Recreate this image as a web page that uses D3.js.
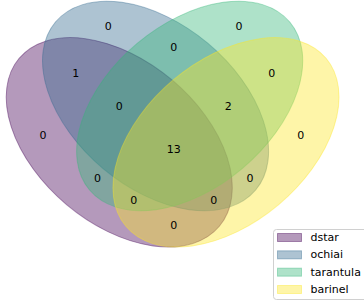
<!DOCTYPE html>
<html><head><meta charset="utf-8">
<script src="https://cdn.jsdelivr.net/npm/d3@7"></script>
<style>body{margin:0;background:#fff}svg{display:block}</style>
</head><body>
<script>
const setNames = ["dstar", "ochiai", "tarantula", "barinel"];
const setColors = ["#440154", "#31688e", "#35b779", "#fde725"];
// ellipse geometry in unit space (cx, cy, width, height, angle)
const ellipseCx = [0.350, 0.450, 0.544, 0.644];
const ellipseCy = [0.400, 0.500, 0.500, 0.400];
const ellipseAngle = [140, 140, 40, 40];
const ellipseW = 0.72, ellipseH = 0.45;
// region codes (dstar, ochiai, tarantula, barinel) and counts
const regionCodes = ["0001","0010","0011","0100","0101","0110","0111","1000","1001","1010","1011","1100","1101","1110","1111"];
const regionValues = [0, 0, 0, 0, 0, 0, 2, 0, 0, 0, 0, 1, 0, 0, 13];
const regionX = [0.85,0.68,0.77,0.32,0.71,0.50,0.65,0.14,0.50,0.29,0.39,0.23,0.61,0.35,0.50];
const regionY = [0.42,0.72,0.59,0.72,0.30,0.66,0.50,0.42,0.17,0.30,0.24,0.59,0.24,0.50,0.38];

const W = 364, H = 301;
const k = 363;
const x = d3.scaleLinear().domain([0, 1]).range([-7.8, -7.8 + k]);
const y = d3.scaleLinear().domain([0, 1]).range([287.5, 287.5 - k]);

const svg = d3.select("body").append("svg").attr("width", W).attr("height", H);

const ell = setNames.map((n, i) => ({i, cx: ellipseCx[i], cy: ellipseCy[i], a: ellipseAngle[i]}));
svg.append("g").selectAll("ellipse").data(ell).join("ellipse")
  .attr("transform", d => `translate(${x(d.cx)},${y(d.cy)}) rotate(${-d.a})`)
  .attr("rx", x(ellipseW / 2) - x(0))
  .attr("ry", x(ellipseH / 2) - x(0))
  .attr("fill", d => setColors[d.i]).attr("fill-opacity", 0.4)
  .attr("stroke", d => setColors[d.i]).attr("stroke-opacity", 0.4).attr("stroke-width", 1);

svg.append("g").selectAll("text").data(regionCodes).join("text")
  .attr("x", (d, i) => x(regionX[i]))
  .attr("y", (d, i) => y(regionY[i]))
  .attr("text-anchor", "middle").attr("dominant-baseline", "central")
  .attr("font-family", "DejaVu Sans").attr("font-size", 11).attr("fill", "#000")
  .text((d, i) => regionValues[i]);

// legend
const lg = svg.append("g").attr("transform", "translate(273.5,229.5)");
lg.append("rect").attr("width", 95).attr("height", 70).attr("rx", 3)
  .attr("fill", "#fff").attr("fill-opacity", 0.8).attr("stroke", "#d0d0d0").attr("stroke-width", 1);
const rowY = d3.scaleLinear().domain([0, 3]).range([8, 60]);
const items = lg.selectAll("g.item").data(setNames).join("g").attr("class", "item")
  .attr("transform", (d, i) => `translate(0,${rowY(i)})`);
items.append("rect").attr("x", 4).attr("y", -4).attr("width", 24).attr("height", 8)
  .attr("fill", (d, i) => setColors[i]).attr("fill-opacity", 0.4)
  .attr("stroke", (d, i) => setColors[i]).attr("stroke-opacity", 0.4);
items.append("text").attr("x", 37).attr("y", 0).attr("dominant-baseline", "central")
  .attr("font-family", "DejaVu Sans").attr("font-size", 11).attr("fill", "#000")
  .text(d => d);
</script>
</body></html>
